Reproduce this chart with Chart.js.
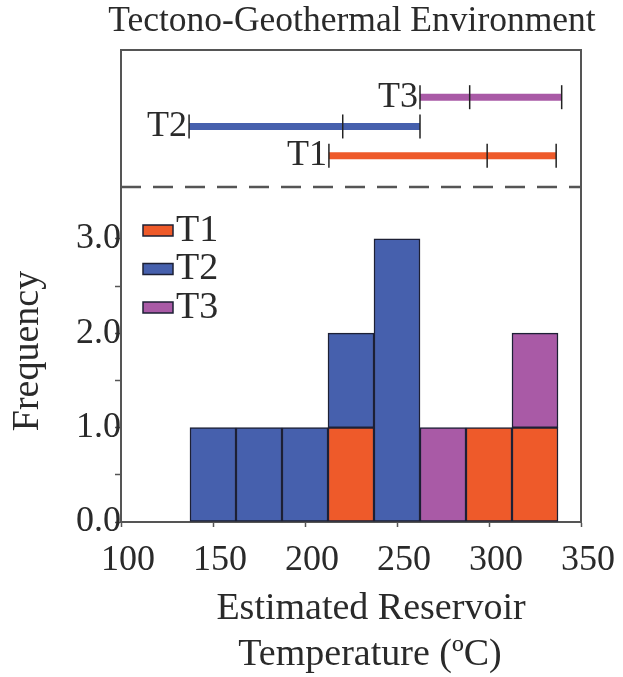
<!DOCTYPE html>
<html><head><meta charset="utf-8">
<script src="https://cdn.jsdelivr.net/npm/chart.js@4"></script>
<style>html,body{margin:0;padding:0;background:#fff}</style>
</head><body>
<canvas id="c" width="623" height="677"></canvas>
<script>
// ---- data ----
const binCenters = [150, 175, 200, 225, 250, 275, 300, 325];
const t1Counts = [0, 0, 0, 1, 0, 0, 1, 1];
const t2Counts = [1, 1, 1, 1, 3, 0, 0, 0];
const t3Counts = [0, 0, 0, 0, 0, 1, 0, 1];
const seriesNames = ['T1', 'T2', 'T3'];
const xTickValues = [100, 150, 200, 250, 300, 350];
const yTickValues = [0, 0.5, 1, 1.5, 2, 2.5, 3];
// temperature ranges (min, mid mark, max) per environment
const t1Range = [213, 299, 336.5];
const t2Range = [137, 220.5, 262.5];
const t3Range = [262.5, 289.5, 339.5];
const rangeRowLevel = [3.88, 4.19, 4.5];
const separatorLevel = 3.55;
const titleText = 'Tectono-Geothermal Environment';
const yTitle = 'Frequency';
const xTitleLines = ['Estimated Reservoir', 'Temperature (ºC)'];

const colors = ['#EE5A2A', '#4660AD', '#A95AA6'];
const outline = '#1d2035';
const axisColor = '#555';
const textColor = '#2a2a2a';
const serif = '"Liberation Serif", "DejaVu Serif", serif';

function toPoints(counts) {
  return binCenters.map((x, i) => ({ x: x, y: counts[i] })).filter(p => p.y > 0);
}
const countSets = [t1Counts, t2Counts, t3Counts];
const ranges = [t1Range, t2Range, t3Range];

const datasets = [];
countSets.forEach((c, i) => {
  datasets.push({
    type: 'bar', label: seriesNames[i], data: toPoints(c),
    backgroundColor: colors[i], borderColor: outline, borderWidth: 1.5,
    borderSkipped: false, barPercentage: 1, categoryPercentage: 1,
    yAxisID: 'y', order: 2
  });
});
ranges.forEach((r, i) => {
  datasets.push({
    type: 'line', label: seriesNames[i] + ' range',
    data: r.map(v => ({ x: v, y: rangeRowLevel[i] })),
    borderColor: colors[i], borderWidth: 7, yAxisID: 'yr',
    pointStyle: 'line', pointRotation: 90, pointRadius: 12,
    pointBorderColor: '#222', pointBorderWidth: 1.5, pointBackgroundColor: '#222',
    order: 1
  });
});
datasets.push({
  type: 'line', label: 'separator',
  data: [{ x: xTickValues[0], y: separatorLevel }, { x: xTickValues[xTickValues.length - 1], y: separatorLevel }],
  borderColor: axisColor, borderWidth: 2.5, borderDash: [20, 12], pointRadius: 0,
  yAxisID: 'yr', order: 1
});

const decor = {
  id: 'decor',
  afterDraw(chart) {
    const ctx = chart.ctx, a = chart.chartArea;
    const xs = chart.scales.x, yr = chart.scales.yr;
    ctx.save();
    // frame top/right
    ctx.strokeStyle = axisColor; ctx.lineWidth = 2;
    ctx.beginPath();
    ctx.moveTo(a.left, a.top); ctx.lineTo(a.right, a.top); ctx.lineTo(a.right, a.bottom);
    ctx.stroke();
    ctx.fillStyle = textColor;
    // title
    ctx.font = '35.5px ' + serif; ctx.textAlign = 'center'; ctx.textBaseline = 'middle';
    ctx.fillText(titleText, 352, 22);
    // x title
    ctx.font = '38px ' + serif;
    ctx.fillText(xTitleLines[0], 371, 609);
    ctx.fillText(xTitleLines[1], 370, 655);
    // y title
    ctx.save();
    ctx.translate(28, 351); ctx.rotate(-Math.PI / 2);
    ctx.fillText(yTitle, 0, 0);
    ctx.restore();
    // range labels
    ctx.font = '36px ' + serif; ctx.textAlign = 'right';
    ranges.forEach((r, i) => {
      ctx.fillText(seriesNames[i], xs.getPixelForValue(r[0]) - 2, yr.getPixelForValue(rangeRowLevel[i]));
    });
    // legend
    ctx.textAlign = 'left';
    ctx.font = '38px ' + serif;
    seriesNames.forEach((n, i) => {
      const cy = 230 + i * 38.5;
      ctx.fillStyle = colors[i]; ctx.fillRect(143, cy - 5, 30, 11);
      ctx.strokeStyle = outline; ctx.lineWidth = 1.5; ctx.strokeRect(143, cy - 5, 30, 11);
      ctx.fillStyle = textColor; ctx.fillText(n, 176, cy + 1);
    });
    ctx.restore();
  }
};

new Chart(document.getElementById('c'), {
  data: { datasets: datasets },
  options: {
    responsive: false, animation: false, devicePixelRatio: 1,
    layout: { padding: { top: 50, right: 42, left: 0, bottom: 0 } },
    plugins: { legend: { display: false }, title: { display: false }, tooltip: { enabled: false } },
    scales: {
      x: {
        type: 'linear', min: 100, max: 350, stacked: true, offset: false,
        afterBuildTicks: s => { s.ticks = xTickValues.map(v => ({ value: v })); },
        afterFit: s => { s.height = 155; },
        grid: { offset: false, drawOnChartArea: false, tickLength: 5, tickColor: axisColor, tickWidth: 1.5 },
        border: { color: axisColor, width: 2 },
        ticks: { font: { family: serif, size: 36 }, color: textColor, labelOffset: 7, padding: 12, maxRotation: 0 }
      },
      y: {
        type: 'linear', min: 0, max: 5, stacked: true, position: 'left',
        afterBuildTicks: s => { s.ticks = yTickValues.map(v => ({ value: v })); },
        afterFit: s => { s.width = 121; },
        grid: { drawOnChartArea: false, tickLength: 6, tickColor: axisColor, tickWidth: 1.5 },
        border: { color: axisColor, width: 2 },
        ticks: {
          font: { family: serif, size: 36 }, color: textColor, padding: -6,
          callback: v => (v % 1 === 0 ? v.toFixed(1) : '')
        }
      },
      yr: { type: 'linear', min: 0, max: 5, display: false }
    }
  },
  plugins: [decor]
});
</script>
</body></html>
